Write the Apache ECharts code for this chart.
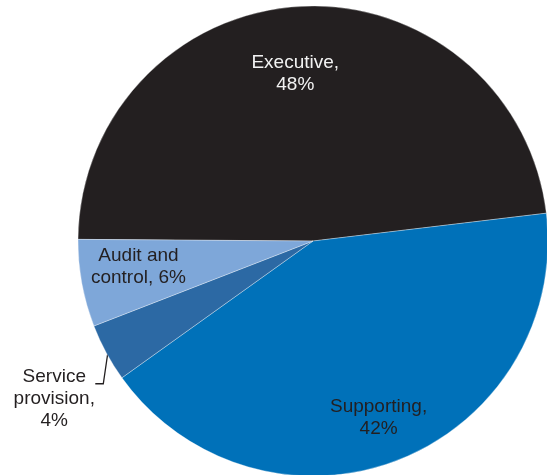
<!DOCTYPE html>
<html>
<head>
<meta charset="utf-8">
<script src="https://cdn.jsdelivr.net/npm/echarts@6/dist/echarts.min.js"></script>
<style>
  html, body { margin: 0; padding: 0; background: #ffffff; }
  #chart { width: 547px; height: 475px; }
</style>
</head>
<body>
<div id="chart"></div>
<script>
// Staff distribution by function (share of total, %)
const categories = ['Executive', 'Supporting', 'Service provision', 'Audit and control'];
const shares = [48, 42, 4, 6];
const labelTexts = ['Executive,\n48%', 'Supporting,\n42%', 'Service\nprovision,\n4%', 'Audit and\ncontrol, 6%'];
const sliceColors = ['#231f20', '#0071b9', '#2c69a4', '#7ea7d9'];
const labelColors = ['#f2f2f2', '#231f20', '#231f20', '#231f20'];

// nudges for the inside labels, relative to the slice's default inside spot
const labelNudges = [[-11, -47], [22, 64], null, [-56, 4]];

const chart = echarts.init(document.getElementById('chart'), null, { renderer: 'canvas' });

const data = categories.map((name, i) => ({
  name: name,
  value: shares[i],
  itemStyle: { color: sliceColors[i] },
  label: {
    formatter: labelTexts[i],
    color: labelColors[i],
    position: i === 2 ? 'outside' : 'inside'
  },
  labelLine: { show: i === 2 }
}));

chart.setOption({
  animation: false,
  backgroundColor: '#ffffff',
  series: [{
    type: 'pie',
    center: [313, 241],
    radius: 235,
    startAngle: 179.6,
    clockwise: true,
    avoidLabelOverlap: false,
    data: data,
    itemStyle: { borderColor: 'rgba(255,255,255,0.55)', borderWidth: 0.6 },
    label: {
      show: true,
      fontFamily: '"Liberation Sans", Arial, sans-serif',
      fontSize: 19,
      lineHeight: 22,
      align: 'center'
    },
    labelLine: {
      show: false,
      lineStyle: { color: '#231f20', width: 1.3 }
    },
    labelLayout: function (params) {
      const i = params.dataIndex;
      if (i === 2) {
        const pts = params.labelLinePoints;
        if (!pts) return {};
        const a = pts[0];
        return {
          x: a[0] - 52,
          y: a[1] + 46,
          align: 'center',
          verticalAlign: 'middle',
          labelLinePoints: [[a[0] + 2, a[1] - 3], [a[0] - 3, a[1] + 31], [a[0] - 11, a[1] + 31]]
        };
      }
      const n = labelNudges[i];
      return { dx: n[0], dy: n[1] };
    }
  }]
});
</script>
</body>
</html>
